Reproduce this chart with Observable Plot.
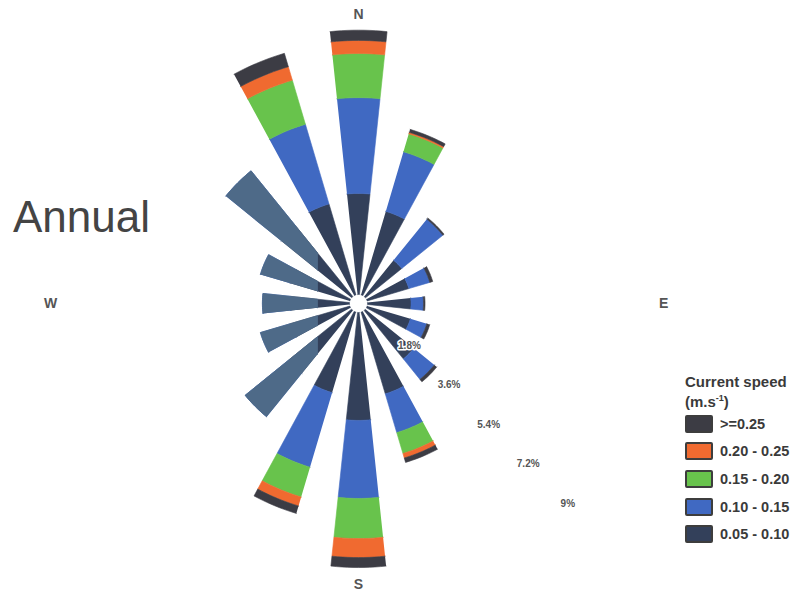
<!DOCTYPE html>
<html>
<head>
<meta charset="utf-8">
<script src="https://cdn.jsdelivr.net/npm/d3@7"></script>
<script src="https://cdn.jsdelivr.net/npm/@observablehq/plot@0.6"></script>
<style>
  html, body { margin: 0; padding: 0; background: #fff; }
  #wrap { position: relative; width: 800px; height: 596px; font-family: Arial, "Liberation Sans", sans-serif; }
  #title { position: absolute; left: 13px; top: 195px; font-size: 44px; line-height: 1; color: #444; }
  #legend { position: absolute; left: 685px; top: 373px; color: #3a3a3a; font-weight: bold; }
  #legend .head { font-size: 15px; line-height: 17px; }
  #legend .row { display: flex; align-items: center; height: 27.6px; }
  #legend .sw { width: 24px; height: 14px; border: 2px solid #3d3d3d; border-radius: 2px; margin-right: 7px; }
  #legend .lab { font-size: 14.5px; }
</style>
</head>
<body>
<div id="wrap">
  <div id="chart"></div>
  <div id="title">Annual</div>
  <div id="legend"></div>
</div>
<script>
// Sixteen compass sectors, clockwise from north
const directions = ["N","NNE","NE","ENE","E","ESE","SE","SSE","S","SSW","SW","WSW","W","WNW","NW","NNW"];

// Current speed classes (m/s), inner to outer
const speedClasses = ["0.05 - 0.10", "0.10 - 0.15", "0.15 - 0.20", "0.20 - 0.25", ">=0.25"];

// Frequency of occurrence (%) per sector for each speed class
const freq005 = [3.25, 2.80, 1.50, 1.40, 1.40, 1.45, 2.00, 2.74, 3.47, 2.70, 2.60, 2.00, 1.90, 2.00, 2.90, 3.05];
const freq010 = [3.08, 2.00, 1.70, 0.70, 0.40, 0.55, 0.85, 1.30, 2.51, 2.50, 1.80, 1.00, 0.90, 1.00, 2.30, 2.67];
const freq015 = [1.42, 0.60, 0.00, 0.00, 0.00, 0.00, 0.00, 0.70, 1.29, 1.00, 0.00, 0.00, 0.00, 0.00, 0.00, 1.48];
const freq020 = [0.42, 0.05, 0.00, 0.00, 0.00, 0.00, 0.00, 0.15, 0.61, 0.30, 0.00, 0.00, 0.00, 0.00, 0.00, 0.45];
const freq025 = [0.33, 0.10, 0.05, 0.10, 0.05, 0.10, 0.10, 0.15, 0.32, 0.25, 0.00, 0.00, 0.00, 0.00, 0.00, 0.45];

const classColors = ["#33405a", "#4069c2", "#68c34c", "#f06a30", "#3c3c44"];

// Western sectors are shaded in a single muted tone beyond the inner ring
const mutedSectors = ["SW", "WSW", "W", "WNW", "NW"];
const mutedColor = "#4e6a88";

// Radial scale labels (%)
const radialTicks = [1.8, 3.6, 5.4, 7.2, 9];
const radialTickLabels = ["1.8%", "3.6%", "5.4%", "7.2%", "9%"];
const compassLabels = ["N", "E", "S", "W"];

// ---- geometry helpers -------------------------------------------------
const pxPerUnit = 31.1;          // pixels per 1 % of frequency
const hole = 9 / pxPerUnit;      // empty centre, in % units
const halfWidth = 6;             // half angular width of each petal (deg)
const cx = 358, cy = 303, W = 800, H = 596;
const mutedCutX = -41 / pxPerUnit; // muted shading only left of this x (in % units)

const rad = (deg) => deg * Math.PI / 180;
const polar = (bearing, r) => ({x: r * Math.sin(rad(bearing)), y: r * Math.cos(rad(bearing))});

function wedge(id, cls, bearing, r0, r1) {
  const pts = [];
  const n = 10;
  for (let j = 0; j <= n; ++j) {
    const a = bearing - halfWidth + (2 * halfWidth * j) / n;
    pts.push({id, cls, ...polar(a, hole + r1)});
  }
  for (let j = n; j >= 0; --j) {
    const a = bearing - halfWidth + (2 * halfWidth * j) / n;
    pts.push({id, cls, ...polar(a, hole + r0)});
  }
  return pts;
}

// Keep the part of a polygon lying at x <= cut
function clipLeft(pts, cut) {
  const out = [];
  for (let i = 0; i < pts.length; ++i) {
    const p = pts[i], q = pts[(i + 1) % pts.length];
    const pin = p.x <= cut, qin = q.x <= cut;
    if (pin) out.push(p);
    if (pin !== qin) {
      const t = (cut - p.x) / (q.x - p.x);
      out.push({...p, x: cut, y: p.y + t * (q.y - p.y)});
    }
  }
  return out;
}

const series = [freq005, freq010, freq015, freq020, freq025];
const segmentPts = [];
const mutedPts = [];
directions.forEach((dir, i) => {
  const bearing = i * 22.5;
  let base = 0;
  series.forEach((s, k) => {
    const v = s[i];
    if (v > 0) segmentPts.push(...wedge(`${dir}-${k}`, speedClasses[k], bearing, base, base + v));
    base += v;
  });
  if (mutedSectors.includes(dir)) mutedPts.push(...clipLeft(wedge(dir, "muted", bearing, 0, base), mutedCutX));
});

const tickPts = radialTicks.map((t, i) => ({label: radialTickLabels[i], ...polar(135, hole + t)}));
const compassRadius = {N: 9.29, E: 9.81, S: 9.02, W: 9.9};
const compassPts = compassLabels.map((c, i) => ({label: c, ...polar(i * 90, compassRadius[c])}));

const chart = Plot.plot({
  width: W,
  height: H,
  margin: 0,
  style: {fontFamily: "Arial, 'Liberation Sans', sans-serif", background: "transparent"},
  x: {domain: [-cx / pxPerUnit, (W - cx) / pxPerUnit], range: [0, W], axis: null},
  y: {domain: [-(H - cy) / pxPerUnit, cy / pxPerUnit], range: [H, 0], axis: null},
  color: {domain: speedClasses, range: classColors},
  marks: [
    Plot.line(segmentPts, {x: "x", y: "y", z: "id", fill: "cls", stroke: "cls", strokeWidth: 0.6, curve: "linear"}),
    Plot.line(mutedPts, {x: "x", y: "y", z: "id", fill: mutedColor, stroke: mutedColor, strokeWidth: 0.8, curve: "linear"}),
    Plot.text(tickPts, {x: "x", y: "y", text: "label", dx: 5, dy: -4, fontSize: 10, fontWeight: "bold", fill: "#555", stroke: "white", strokeWidth: 3}),
    Plot.text(compassPts, {x: "x", y: "y", text: "label", fontSize: 14, fontWeight: "bold", fill: "#555"})
  ]
});
document.getElementById("chart").appendChild(chart);

// Legend built from the chart's own colour scale, highest class first
const color = chart.scale("color");
const legend = document.getElementById("legend");
legend.innerHTML = `<div class="head">Current speed</div><div class="head">(m.s<sup style="font-size:9px">-1</sup>)</div>`;
color.domain.slice().reverse().forEach((cls) => {
  const row = document.createElement("div");
  row.className = "row";
  row.innerHTML = `<div class="sw" style="background:${color.apply(cls)}"></div><div class="lab">${cls}</div>`;
  legend.appendChild(row);
});
</script>
</body>
</html>
